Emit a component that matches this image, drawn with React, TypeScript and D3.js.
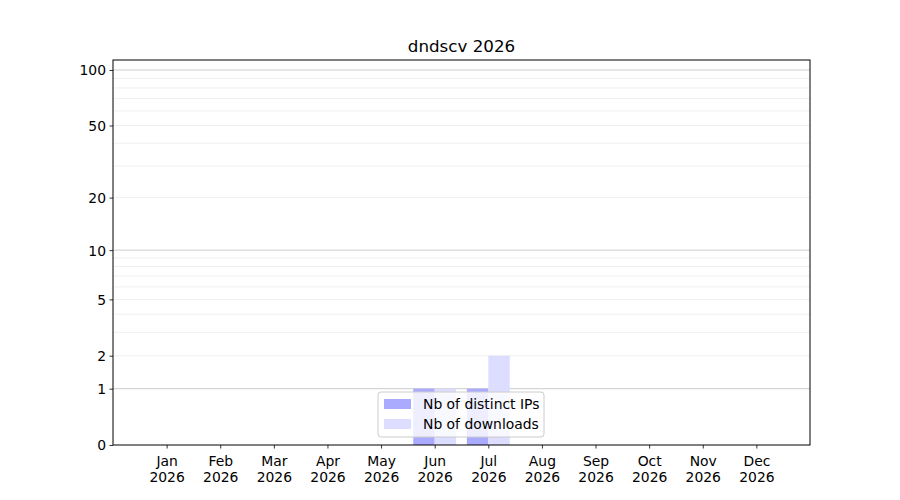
import React, { useEffect, useRef } from 'react';
import * as d3 from 'd3';

const months = ['Jan', 'Feb', 'Mar', 'Apr', 'May', 'Jun', 'Jul', 'Aug', 'Sep', 'Oct', 'Nov', 'Dec'];
const year = '2026';
const distinctIps = [0, 0, 0, 0, 0, 1, 1, 0, 0, 0, 0, 0];
const downloads = [0, 0, 0, 0, 0, 1, 2, 0, 0, 0, 0, 0];
const yTicks = [0, 1, 2, 5, 10, 20, 50, 100];
const majorGrid = [1, 10, 100];
const minorGrid = [2, 3, 4, 5, 6, 7, 8, 9, 20, 30, 40, 50, 60, 70, 80, 90];

const App: React.FC = () => {
  const svgRef = useRef<SVGSVGElement | null>(null);

  useEffect(() => {
    document.body.style.margin = '0';
    if (!svgRef.current) return;
    const svg = d3.select(svgRef.current);
    svg.selectAll('*').remove();

    const width = 900;
    const height = 500;
    const margin = { top: 60, right: 90, bottom: 55, left: 113 };
    const font = 'DejaVu Sans, sans-serif';
    const fs = 13.9;

    const x = d3.scaleLinear().domain([0, 13]).range([margin.left, width - margin.right]);
    // log(1 + v) scale, as on the reference
    const y = d3.scaleSymlog().constant(1).domain([0, 113.2]).range([height - margin.bottom, margin.top]);

    const g = svg.append('g');

    // grid lines
    g.selectAll('.minor')
      .data(minorGrid)
      .enter()
      .append('line')
      .attr('x1', margin.left)
      .attr('x2', width - margin.right)
      .attr('y1', d => y(d))
      .attr('y2', d => y(d))
      .attr('stroke', '#ebebeb')
      .attr('stroke-width', 0.8);

    g.selectAll('.major')
      .data(majorGrid)
      .enter()
      .append('line')
      .attr('x1', margin.left)
      .attr('x2', width - margin.right)
      .attr('y1', d => y(d))
      .attr('y2', d => y(d))
      .attr('stroke', '#cccccc')
      .attr('stroke-width', 1);

    // bars
    const bw = 0.4;
    g.selectAll('.ips')
      .data(distinctIps)
      .enter()
      .append('rect')
      .attr('x', (_, i) => x(i + 1 - bw))
      .attr('width', x(bw) - x(0))
      .attr('y', d => y(d))
      .attr('height', d => y(0) - y(d))
      .attr('fill', 'rgb(170,170,255)');

    g.selectAll('.dl')
      .data(downloads)
      .enter()
      .append('rect')
      .attr('x', (_, i) => x(i + 1))
      .attr('width', x(bw) - x(0))
      .attr('y', d => y(d))
      .attr('height', d => y(0) - y(d))
      .attr('fill', 'rgb(221,221,255)');

    // axes
    const xAxis = g.append('g')
      .attr('transform', `translate(0,${height - margin.bottom})`)
      .call(d3.axisBottom(x).tickValues(d3.range(1, 13)).tickSize(3.5).tickPadding(3.5).tickFormat(() => ''));
    xAxis.select('.domain').remove();
    xAxis.selectAll('.tick line').attr('stroke', '#000').attr('stroke-width', 0.8);
    xAxis.selectAll('.tick text').remove();
    xAxis.selectAll('.tick')
      .append('text')
      .attr('fill', '#000')
      .attr('font-family', font)
      .attr('font-size', fs)
      .attr('text-anchor', 'middle')
      .each(function (_, i) {
        const t = d3.select(this);
        t.append('tspan').attr('x', 0).attr('y', 21).text(months[i]);
        t.append('tspan').attr('x', 0).attr('y', 37).text(year);
      });

    const yAxis = g.append('g')
      .attr('transform', `translate(${margin.left},0)`)
      .call(d3.axisLeft(y).tickValues(yTicks).tickSize(3.5).tickPadding(3.5).tickFormat(d3.format('d')));
    yAxis.select('.domain').remove();
    yAxis.selectAll('.tick line').attr('stroke', '#000').attr('stroke-width', 0.8);
    yAxis.selectAll('.tick text')
      .attr('fill', '#000')
      .attr('font-family', font)
      .attr('font-size', fs)
      .attr('dy', '0.35em');

    // frame
    g.append('rect')
      .attr('x', margin.left)
      .attr('y', margin.top)
      .attr('width', width - margin.left - margin.right)
      .attr('height', height - margin.top - margin.bottom)
      .attr('fill', 'none')
      .attr('stroke', '#000')
      .attr('stroke-width', 1);

    // title
    svg.append('text')
      .attr('x', (margin.left + width - margin.right) / 2)
      .attr('y', 52)
      .attr('text-anchor', 'middle')
      .attr('font-family', font)
      .attr('font-size', 16.7)
      .attr('fill', '#000')
      .text('dndscv 2026');

    // legend
    const legend = svg.append('g').attr('transform', 'translate(378,392)');
    legend.append('rect')
      .attr('width', 166)
      .attr('height', 45)
      .attr('rx', 3)
      .attr('fill', 'rgba(255,255,255,0.8)')
      .attr('stroke', '#cccccc')
      .attr('stroke-width', 1);
    const items = [
      { label: 'Nb of distinct IPs', color: 'rgb(170,170,255)' },
      { label: 'Nb of downloads', color: 'rgb(221,221,255)' },
    ];
    items.forEach((it, i) => {
      legend.append('rect')
        .attr('x', 6)
        .attr('y', 7 + i * 20)
        .attr('width', 27)
        .attr('height', 10)
        .attr('fill', it.color);
      legend.append('text')
        .attr('x', 45)
        .attr('y', 12 + i * 20)
        .attr('dy', '0.35em')
        .attr('font-family', font)
        .attr('font-size', fs)
        .attr('fill', '#000')
        .text(it.label);
    });
  }, []);

  return <svg ref={svgRef} width={900} height={500} style={{ display: 'block' }}></svg>;
};

export default App;
